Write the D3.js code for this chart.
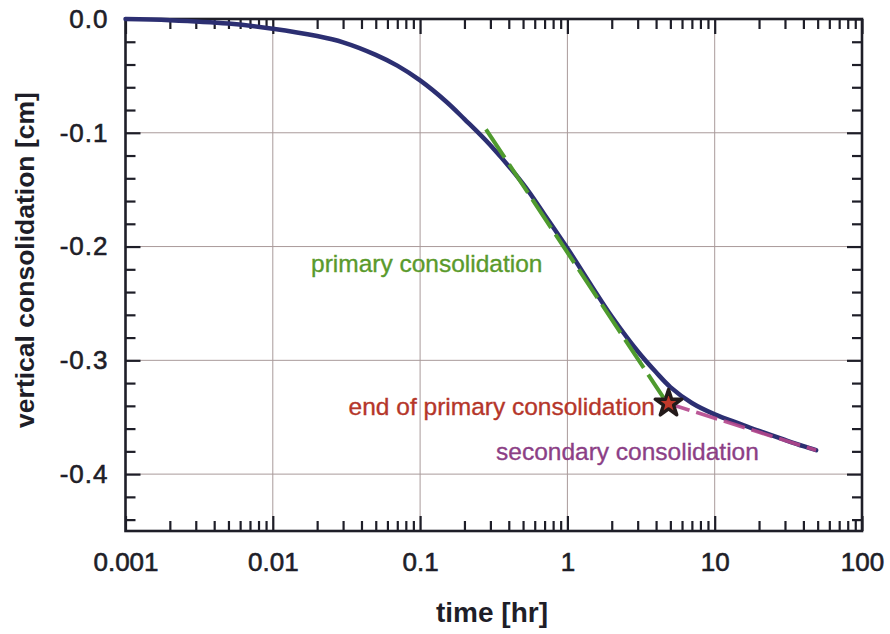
<!DOCTYPE html>
<html>
<head>
<meta charset="utf-8">
<script src="https://cdn.jsdelivr.net/npm/d3@7"></script>
<style>
  html, body { margin: 0; padding: 0; background: #fff; }
  svg { display: block; }
  text { font-family: "Liberation Sans", Arial, Helvetica, sans-serif; }
</style>
</head>
<body>
<svg id="chart" width="890" height="634"></svg>
<script>
// Settlement vs. time (log scale) for a consolidation test
const timeHr = [0.001, 0.002, 0.005, 0.01, 0.02, 0.03, 0.05, 0.07, 0.1, 0.15, 0.2, 0.3, 0.5, 0.7, 1, 1.5, 2, 3, 4, 5, 7, 10, 15, 20, 30, 40, 48.8];
const settlementCm = [0, -0.001, -0.004, -0.0085, -0.015, -0.0205, -0.0315, -0.041, -0.054, -0.0725, -0.088, -0.111, -0.145, -0.172, -0.2015, -0.237, -0.2615, -0.292, -0.3105, -0.3235, -0.3375, -0.3475, -0.356, -0.362, -0.370, -0.3755, -0.379];

// Tangent through the steep (primary) part of the curve
const primaryT = [0.28, 4.5];
const primaryV = [-0.097, -0.333];

// Straight line through the tail (secondary compression)
const secondaryT = [4.86, 48.8];
const secondaryV = [-0.338, -0.379];

// End of primary consolidation
const eopT = 4.86;
const eopV = -0.338;

const xTickValues = [0.001, 0.01, 0.1, 1, 10, 100];
const xTickLabels = ["0.001", "0.01", "0.1", "1", "10", "100"];
const yTickValues = [0, -0.1, -0.2, -0.3, -0.4];
const yTickLabels = ["0.0", "-0.1", "-0.2", "-0.3", "-0.4"];

const svg = d3.select("#chart");
const plotLeft = 125.5, plotRight = 862, plotTop = 19, plotBottom = 531;

const x = d3.scaleLog().domain([0.001, 100]).range([plotLeft, plotRight]);
const y = d3.scaleLinear().domain([-0.45, 0]).range([plotBottom, plotTop]);

const ink = "#1e1e28";
const gridColor = "#a99a9a";

// minor tick positions
const xMinor = [];
for (let e = -3; e < 2; e++) for (let m = 2; m <= 9; m++) xMinor.push(m * Math.pow(10, e));
const yMinor = d3.range(0, 23).map(i => -i * 0.02).filter(v => Math.abs(Math.round(v * 10) - v * 10) > 1e-6);

// grid
const grid = svg.append("g");
grid.selectAll("line.vx").data(xTickValues.slice(1, -1)).join("line")
  .attr("x1", d => x(d)).attr("x2", d => x(d)).attr("y1", plotTop).attr("y2", plotBottom)
  .attr("stroke", gridColor).attr("stroke-width", 1);
grid.selectAll("line.hy").data(yTickValues.slice(1)).join("line")
  .attr("x1", plotLeft).attr("x2", plotRight).attr("y1", d => y(d)).attr("y2", d => y(d))
  .attr("stroke", gridColor).attr("stroke-width", 1);

function styleAxis(g, width) {
  g.select(".domain").remove();
  g.selectAll(".tick line").attr("stroke", ink).attr("stroke-width", width);
}

const fmtX = (d) => xTickLabels[xTickValues.indexOf(d)];
const fmtY = (d) => yTickLabels[yTickValues.findIndex(v => Math.abs(v - d) < 1e-9)];

function styleLabels(g) {
  g.selectAll("text").attr("font-size", 26).attr("fill", ink)
    .attr("stroke", ink).attr("stroke-width", 0.6)
    .attr("font-family", "Liberation Sans, Arial, sans-serif");
}

// bottom axis
const gB = svg.append("g").attr("transform", `translate(0,${plotBottom})`)
  .call(d3.axisBottom(x).tickValues(xTickValues).tickFormat(fmtX).tickSizeInner(-15).tickSizeOuter(0).tickPadding(22));
styleAxis(gB, 2.2);
styleLabels(gB);
const gBm = svg.append("g").attr("transform", `translate(0,${plotBottom})`)
  .call(d3.axisBottom(x).tickValues(xMinor).tickFormat("").tickSizeInner(-10).tickSizeOuter(0));
styleAxis(gBm, 2.2);

// top axis
const gT = svg.append("g").attr("transform", `translate(0,${plotTop})`)
  .call(d3.axisTop(x).tickValues(xTickValues).tickFormat("").tickSizeInner(-15).tickSizeOuter(0));
styleAxis(gT, 2.2);
const gTm = svg.append("g").attr("transform", `translate(0,${plotTop})`)
  .call(d3.axisTop(x).tickValues(xMinor).tickFormat("").tickSizeInner(-10).tickSizeOuter(0));
styleAxis(gTm, 2.2);

// left axis
const gL = svg.append("g").attr("transform", `translate(${plotLeft},0)`)
  .call(d3.axisLeft(y).tickValues(yTickValues).tickFormat(fmtY).tickSizeInner(-15).tickSizeOuter(0).tickPadding(17));
styleAxis(gL, 2.2);
styleLabels(gL);
gL.selectAll("text").attr("letter-spacing", "1px");
const gLm = svg.append("g").attr("transform", `translate(${plotLeft},0)`)
  .call(d3.axisLeft(y).tickValues(yMinor).tickFormat("").tickSizeInner(-10).tickSizeOuter(0));
styleAxis(gLm, 2.2);

// right axis
const gR = svg.append("g").attr("transform", `translate(${plotRight},0)`)
  .call(d3.axisRight(y).tickValues(yTickValues).tickFormat("").tickSizeInner(-15).tickSizeOuter(0));
styleAxis(gR, 2.2);
const gRm = svg.append("g").attr("transform", `translate(${plotRight},0)`)
  .call(d3.axisRight(y).tickValues(yMinor).tickFormat("").tickSizeInner(-10).tickSizeOuter(0));
styleAxis(gRm, 2.2);

// frame
svg.append("rect").attr("x", plotLeft).attr("y", plotTop).attr("width", plotRight - plotLeft).attr("height", plotBottom - plotTop)
  .attr("fill", "none").attr("stroke", ink).attr("stroke-width", 2.6);

// measured curve
const pts = timeHr.map((t, i) => [t, settlementCm[i]]);
const line = d3.line().x(d => x(d[0])).y(d => y(d[1])).curve(d3.curveCatmullRom.alpha(0.5));
svg.append("path").datum(pts).attr("d", line)
  .attr("fill", "none").attr("stroke", "#2c2f72").attr("stroke-width", 4.5)
  .attr("stroke-linecap", "round").attr("stroke-linejoin", "round");

// primary consolidation tangent
const straight = d3.line().x(d => x(d[0])).y(d => y(d[1]));
svg.append("path").datum(primaryT.map((t, i) => [t, primaryV[i]])).attr("d", straight)
  .attr("fill", "none").attr("stroke", "#4f9b2e").attr("stroke-width", 4)
  .attr("stroke-dasharray", "34,8");

// secondary consolidation line
svg.append("path").datum(secondaryT.map((t, i) => [t, secondaryV[i]])).attr("d", straight)
  .attr("fill", "none").attr("stroke", "#b4468c").attr("stroke-width", 3.6)
  .attr("stroke-dasharray", "22,7").attr("stroke-opacity", 0.9);

// star marker
svg.append("path")
  .attr("d", d3.symbol().type(d3.symbolStar).size(220)())
  .attr("transform", `translate(${x(eopT)},${y(eopV)})`)
  .attr("fill", "#c0392b").attr("stroke", "#231a1a").attr("stroke-width", 3.4)
  .attr("stroke-linejoin", "round");

// annotations
svg.append("text").attr("x", 311).attr("y", 272).attr("font-size", 24.5)
  .attr("fill", "#5a9a2c").attr("stroke", "#5a9a2c").attr("stroke-width", 0.35)
  .text("primary consolidation");
svg.append("text").attr("x", 655).attr("y", 415).attr("font-size", 24.5).attr("text-anchor", "end")
  .attr("fill", "#b5362a").attr("stroke", "#b5362a").attr("stroke-width", 0.35)
  .text("end of primary consolidation");
svg.append("text").attr("x", 496).attr("y", 460).attr("font-size", 24.5)
  .attr("fill", "#8c3f86").attr("stroke", "#8c3f86").attr("stroke-width", 0.35)
  .text("secondary consolidation");

// axis titles
svg.append("text").attr("x", 492).attr("y", 622).attr("text-anchor", "middle")
  .attr("font-size", 28).attr("font-weight", "bold").attr("fill", ink).text("time [hr]");
svg.append("text").attr("transform", "translate(34,260) rotate(-90)").attr("text-anchor", "middle")
  .attr("font-size", 26.5).attr("font-weight", "bold").attr("fill", ink).text("vertical consolidation [cm]");
</script>
</body>
</html>
